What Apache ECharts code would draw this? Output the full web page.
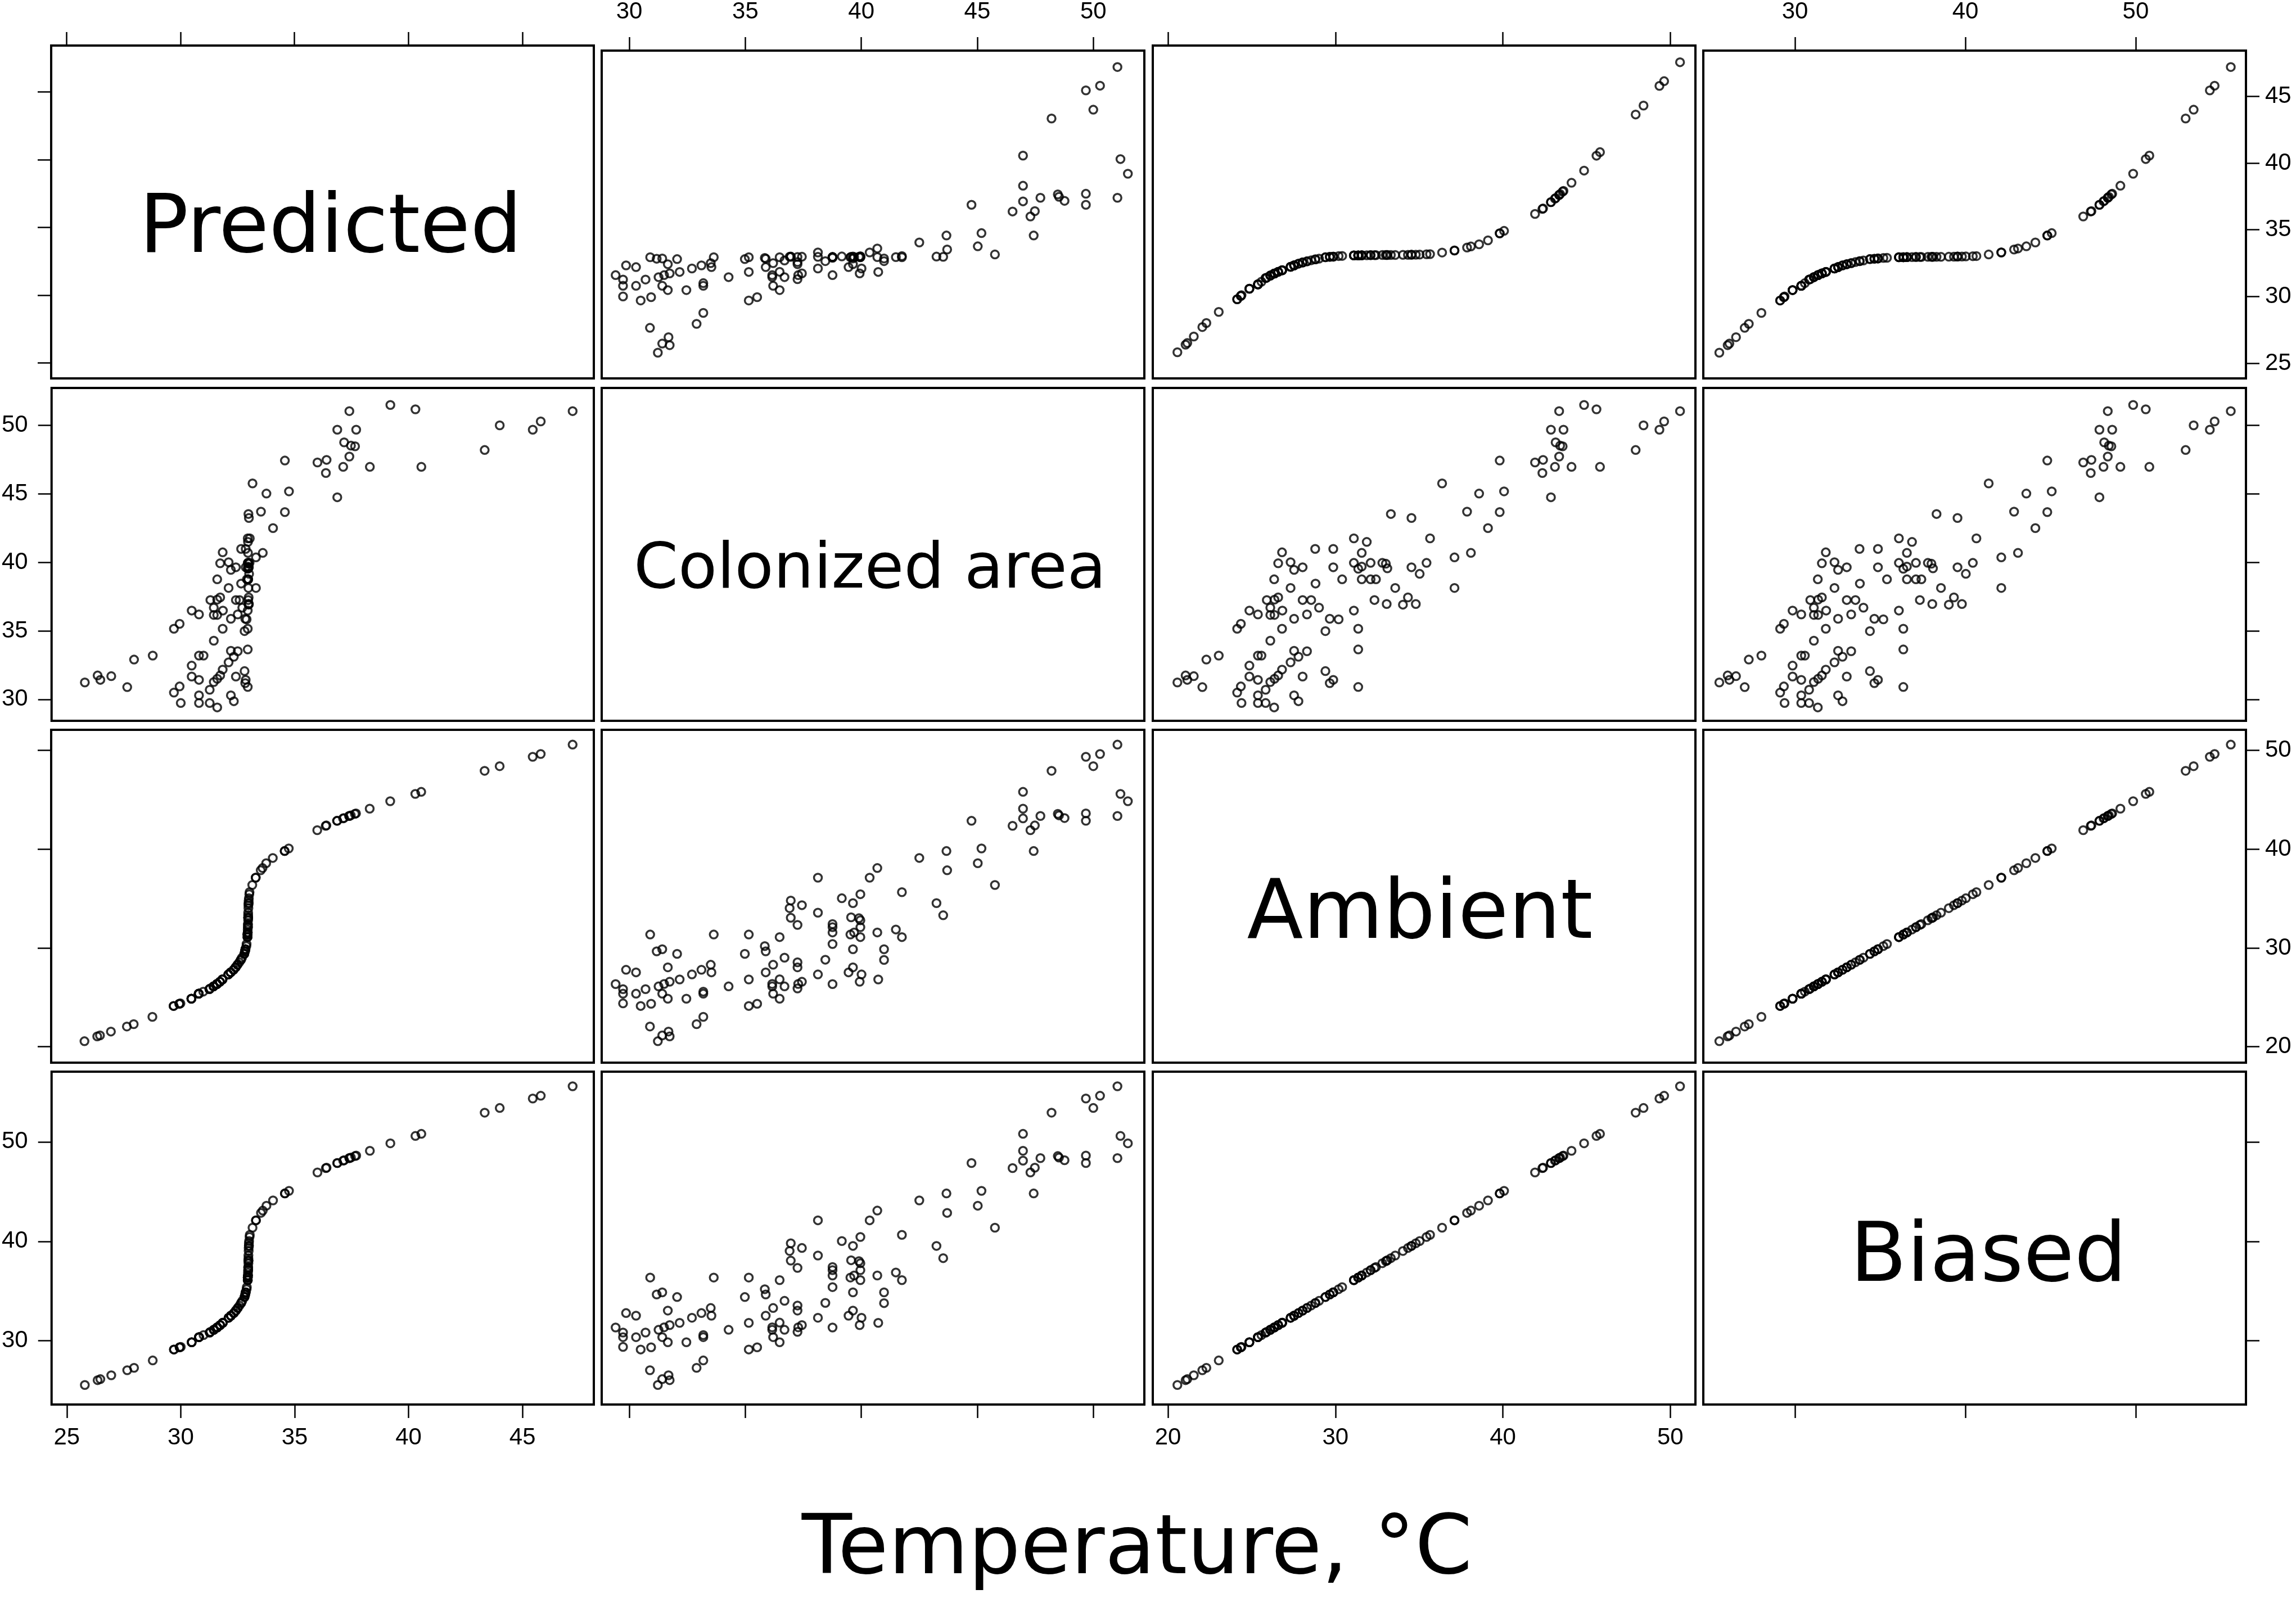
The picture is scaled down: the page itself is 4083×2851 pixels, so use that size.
<!DOCTYPE html>
<html>
<head>
<meta charset="utf-8">
<title>Temperature scatter matrix</title>
<script src="https://cdn.jsdelivr.net/npm/echarts@6/dist/echarts.min.js"></script>
<style>
    html, body { margin: 0; padding: 0; background: #fff; }
    #splom-dom { width: 4083px; height: 2851px; }
</style>
</head>
<body>
<div id="splom-dom"></div>
<script>
// matrix variables, in diagonal order
const varNames = ['Predicted', 'Colonized area', 'Ambient', 'Biased'];
const axisTitle = 'Temperature, \u00b0C';

const ambient = [
    43.36, 44.85, 45.59, 50.58, 48.40, 49.63, 49.35, 42.87, 43.62, 43.15,
    43.42, 43.57, 43.36, 47.93, 39.81, 41.92, 42.40, 43.11, 44.10, 45.80,
    42.36, 36.37, 38.58, 40.07, 42.87, 33.31, 34.54, 37.86, 39.81, 39.11,
    31.10, 31.87, 35.65, 31.57, 26.81, 28.79, 29.87, 37.11, 38.09, 26.58,
    27.32, 27.53, 28.04, 29.87, 31.10, 31.36, 31.57, 32.10, 32.80, 33.01,
    33.10, 34.54, 35.44, 35.03, 26.34, 28.81, 30.40, 31.57, 32.10, 32.42,
    27.32, 33.57, 37.11, 25.90, 26.36, 26.58, 28.04, 28.55, 29.02, 32.33,
    33.06, 34.33, 34.03, 34.80, 24.86, 25.37, 26.11, 26.11, 26.36, 26.83,
    27.53, 28.30, 29.66, 30.19, 31.10, 24.35, 24.13, 26.81, 29.40, 31.36,
    26.11, 22.29, 23.03, 25.37, 25.58, 27.53, 28.30, 27.79, 27.32, 31.36,
    24.86, 26.81, 26.58, 26.36, 26.11, 24.86, 25.37, 28.04, 29.40, 29.87,
    29.66, 31.36, 20.56, 21.05, 21.15, 21.54, 22.05, 24.35, 24.13, 25.83,
    25.37, 25.37, 24.39, 25.83, 26.34, 27.53, 27.79
];
const colonized = [
    51.04, 51.49, 51.17, 51.04, 50.00, 50.29, 49.68, 49.68, 49.68, 48.76,
    48.52, 48.47, 47.72, 48.20, 47.43, 47.29, 47.48, 46.97, 46.97, 46.97,
    46.52, 45.76, 45.02, 45.18, 44.75, 43.53, 43.24, 43.70, 43.67, 42.50,
    41.75, 41.49, 41.75, 40.69, 40.73, 40.98, 40.98, 40.36, 40.69, 39.93,
    40.01, 39.45, 39.64, 39.64, 39.96, 39.53, 39.69, 39.96, 39.96, 39.90,
    39.56, 39.64, 39.96, 39.16, 38.76, 38.45, 38.76, 38.76, 38.76, 38.76,
    38.13, 38.13, 38.13, 37.25, 37.28, 37.44, 37.25, 37.25, 36.69, 37.25,
    36.96, 37.44, 36.91, 36.96, 36.48, 36.20, 36.69, 36.16, 36.16, 36.48,
    35.88, 36.20, 35.88, 35.84, 36.48, 35.51, 35.15, 35.15, 34.98, 35.15,
    34.28, 32.90, 33.19, 33.19, 33.19, 33.54, 33.51, 33.11, 32.70, 33.64,
    32.46, 32.17, 31.74, 31.50, 31.26, 31.66, 31.42, 31.66, 32.06, 31.42,
    31.18, 30.90, 31.23, 31.74, 31.42, 31.69, 30.89, 30.94, 30.49, 30.70,
    30.29, 29.73, 29.73, 29.73, 29.41, 30.29, 29.86
];
const predicted = [
    37.40, 39.20, 40.30, 47.20, 44.00, 45.80, 45.45, 36.87, 37.70, 37.17,
    37.47, 37.65, 37.40, 43.34, 34.57, 36.00, 36.40, 37.13, 38.30, 40.56,
    36.37, 33.15, 33.76, 34.75, 36.87, 32.97, 32.99, 33.52, 34.57, 34.05,
    32.94, 32.95, 33.03, 32.95, 31.84, 32.65, 32.85, 33.30, 33.60, 31.73,
    32.10, 32.20, 32.42, 32.85, 32.94, 32.94, 32.95, 32.96, 32.97, 32.97,
    32.97, 32.99, 33.02, 33.00, 31.60, 32.65, 32.90, 32.95, 32.96, 32.96,
    32.10, 32.97, 33.30, 31.30, 31.60, 31.73, 32.42, 32.58, 32.70, 32.96,
    32.97, 32.98, 32.98, 32.99, 30.48, 30.80, 31.45, 31.45, 31.60, 31.85,
    32.20, 32.50, 32.83, 32.89, 32.94, 29.95, 29.70, 31.84, 32.80, 32.94,
    31.45, 27.95, 28.77, 30.80, 31.00, 32.20, 32.50, 32.33, 32.10, 32.94,
    30.48, 31.84, 31.73, 31.60, 31.45, 30.48, 30.80, 32.42, 32.80, 32.85,
    32.83, 32.94, 25.79, 26.35, 26.47, 26.95, 27.65, 29.95, 29.70, 31.27,
    30.80, 30.80, 30.00, 31.27, 31.60, 32.20, 32.33
];
const biased = [
    48.36, 49.85, 50.59, 55.58, 53.40, 54.63, 54.35, 47.87, 48.62, 48.15,
    48.42, 48.57, 48.36, 52.93, 44.81, 46.92, 47.40, 48.11, 49.10, 50.80,
    47.36, 41.37, 43.58, 45.07, 47.87, 38.31, 39.54, 42.86, 44.81, 44.11,
    36.10, 36.87, 40.65, 36.57, 31.81, 33.79, 34.87, 42.11, 43.09, 31.58,
    32.32, 32.53, 33.04, 34.87, 36.10, 36.36, 36.57, 37.10, 37.80, 38.01,
    38.10, 39.54, 40.44, 40.03, 31.34, 33.81, 35.40, 36.57, 37.10, 37.42,
    32.32, 38.57, 42.11, 30.90, 31.36, 31.58, 33.04, 33.55, 34.02, 37.33,
    38.06, 39.33, 39.03, 39.80, 29.86, 30.37, 31.11, 31.11, 31.36, 31.83,
    32.53, 33.30, 34.66, 35.19, 36.10, 29.35, 29.13, 31.81, 34.40, 36.36,
    31.11, 27.29, 28.03, 30.37, 30.58, 32.53, 33.30, 32.79, 32.32, 36.36,
    29.86, 31.81, 31.58, 31.36, 31.11, 29.86, 30.37, 33.04, 34.40, 34.87,
    34.66, 36.36, 25.56, 26.05, 26.15, 26.54, 27.05, 29.35, 29.13, 30.83,
    30.37, 30.37, 29.39, 30.83, 31.34, 32.53, 32.79
];

// tick positions for each variable
const predictedTicks = [25, 30, 35, 40, 45];
const colonizedTicks = [30, 35, 40, 45, 50];
const ambientTicks = [20, 30, 40, 50];
const biasedTicks = [30, 40, 50];

const columns = [predicted, colonized, ambient, biased];
const tickValues = [predictedTicks, colonizedTicks, ambientTicks, biasedTicks];

// layout of the panels (px)
const colLeft = [91, 1070, 2050, 3029];
const rowTop = [81, 690, 1298, 1906];
const panelW = 965;
const panelH = 592;
// visible limits per variable, horizontal and vertical
const xRange = [[24.33, 48.13], [28.81, 52.2], [19.09, 51.5], [24.62, 56.47]];
const yRange = [[23.86, 48.43], [28.43, 52.73], [18.39, 52.08], [23.6, 57.05]];
// where the diagonal names sit
const diagPos = [
    { x: 588, y: 410, size: 145 },
    { x: 1547, y: 1016, size: 113 },
    { x: 2525, y: 1630, size: 146 },
    { x: 3536, y: 2240, size: 147 }
];

function makeAxis(gridIndex, position, v, range, showTick, showLabel, margin) {
    return {
        type: 'value',
        gridIndex: gridIndex,
        position: position,
        min: range[0],
        max: range[1],
        axisLine: { show: false, onZero: false },
        splitLine: { show: false },
        axisTick: {
            show: showTick,
            length: 24,
            lineStyle: { color: '#000', width: 2.5 },
            customValues: tickValues[v]
        },
        axisLabel: {
            show: showLabel,
            customValues: tickValues[v],
            margin: margin,
            fontFamily: 'Liberation Sans',
            fontSize: 42,
            color: '#000'
        }
    };
}

let grids = [];
let xAxes = [];
let yAxes = [];
let series = [];
for (let i = 0; i < 4; i++) {
    for (let j = 0; j < 4; j++) {
        let k = i * 4 + j;
        grids.push({
            left: colLeft[j],
            top: rowTop[i],
            width: panelW,
            height: panelH,
            show: true,
            borderColor: '#000',
            borderWidth: 4,
            backgroundColor: 'transparent'
        });
        // bottom x / left y carry the points; labels alternate like lattice
        xAxes.push(makeAxis(k, 'bottom', j, xRange[j], i === 3, i === 3 && j % 2 === 0, 38));
        yAxes.push(makeAxis(k, 'left', i, yRange[i], j === 0, j === 0 && i % 2 === 1, 42));
        if (i !== j) {
            let pts = [];
            for (let n = 0; n < ambient.length; n++) {
                pts.push([columns[j][n], columns[i][n]]);
            }
            series.push({
                type: 'scatter',
                xAxisIndex: k,
                yAxisIndex: k,
                data: pts,
                symbol: 'circle',
                symbolSize: 14,
                itemStyle: { color: 'rgba(0,0,0,0)', borderColor: '#000', borderWidth: 3.5 },
                silent: true
            });
        }
    }
}
// top ticks on first row, right ticks on last column
for (let j = 0; j < 4; j++) {
    xAxes.push(makeAxis(j, 'top', j, xRange[j], true, j % 2 === 1, 48));
}
for (let i = 0; i < 4; i++) {
    yAxes.push(makeAxis(i * 4 + 3, 'right', i, yRange[i], true, i % 2 === 0, 34));
}

let graphics = [];
for (let d = 0; d < 4; d++) {
    graphics.push({
        type: 'text',
        x: diagPos[d].x,
        y: diagPos[d].y,
        silent: true,
        style: {
            text: varNames[d],
            fontFamily: 'DejaVu Sans',
            fontSize: diagPos[d].size,
            fill: '#000',
            textAlign: 'center',
            textVerticalAlign: 'middle'
        }
    });
}
graphics.push({
    type: 'text',
    x: 2022,
    y: 2760,
    silent: true,
    style: {
        text: axisTitle,
        fontFamily: 'DejaVu Sans',
        fontSize: 146,
        fill: '#000',
        textAlign: 'center',
        textVerticalAlign: 'middle'
    }
});

let splomChart = echarts.init(document.getElementById('splom-dom'));
splomChart.setOption({
    backgroundColor: '#fff',
    animation: false,
    grid: grids,
    xAxis: xAxes,
    yAxis: yAxes,
    series: series,
    graphic: graphics
});
</script>
</body>
</html>
